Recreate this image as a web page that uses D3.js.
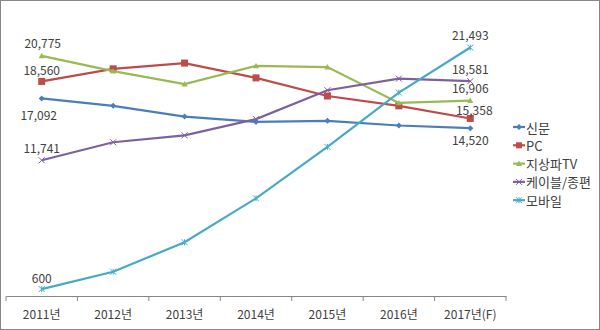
<!DOCTYPE html>
<html>
<head>
<meta charset="utf-8">
<script src="https://cdnjs.cloudflare.com/ajax/libs/d3/7.8.5/d3.min.js"></script>
<style>
  body { margin: 0; background: #fff; }
  svg text { font-family: "Noto Sans CJK KR", "Noto Sans", sans-serif; fill: #404040; }
</style>
</head>
<body>
<svg width="600" height="330"></svg>
<script>
'use strict';

var years = ['2011년', '2012년', '2013년', '2014년', '2015년', '2016년', '2017년(F)'];
var seriesNames = ['신문', 'PC', '지상파TV', '케이블/종편', '모바일'];

var newspaper = [17092, 16450, 15520, 15060, 15150, 14750, 14520];
var pc = [18560, 19650, 20150, 18870, 17300, 16450, 15358];
var terrestrial = [20775, 19450, 18330, 19900, 19800, 16700, 16906];
var cable = [11741, 13300, 13900, 15300, 17800, 18800, 18581];
var mobile = [600, 2100, 4650, 8450, 12900, 17600, 21493];

var allValues = [newspaper, pc, terrestrial, cable, mobile];

// 색상, 마커, 라벨 위치 (처음/마지막 점 기준 세로 오프셋)
var colors = ['#4A7EBB', '#BE4B48', '#98B954', '#7D60A0', '#46AAC5'];
var markers = ['diamond', 'square', 'triangle', 'cross', 'star'];
var labelDy = [[16, 11], [-12, -9], [-13, -13], [-13, -13], [-12, -13]];
var labelDx = [[-3, 0], [0, 4], [1, 0], [0, 0], [0, 0]];

var svg = d3.select('svg');

// 외곽선
svg.append('rect')
    .attr('x', 0.5).attr('y', 0.5)
    .attr('width', 599).attr('height', 329)
    .attr('fill', 'none')
    .attr('stroke', '#868686');

var x = d3.scaleBand().domain(years).range([6, 506]);
var y = d3.scaleLinear().domain([0, 25000]).range([296, 7]);
var cx = function (d) { return x(d) + x.bandwidth() / 2; };

// x축
var xAxis = svg.append('g')
    .attr('transform', 'translate(0,296)')
    .call(d3.axisBottom(x).tickSize(0).tickPadding(14));
xAxis.select('.domain').attr('stroke', '#868686');
xAxis.selectAll('text').style('font-size', '12px').attr('fill', '#404040');

svg.append('g')
    .selectAll('line')
    .data(d3.range(0, years.length + 1))
    .enter()
        .append('line')
        .attr('x1', function (d) { return 6 + d * x.bandwidth(); })
        .attr('x2', function (d) { return 6 + d * x.bandwidth(); })
        .attr('y1', 296)
        .attr('y2', 301)
        .attr('stroke', '#868686');

function drawMarker(g, type, color, px, py, s) {
    if (type === 'diamond') {
        g.append('path').attr('d', 'M' + px + ',' + (py - s) + 'L' + (px + s) + ',' + py + 'L' + px + ',' + (py + s) + 'L' + (px - s) + ',' + py + 'Z').attr('fill', color);
    } else if (type === 'square') {
        g.append('rect').attr('x', px - s).attr('y', py - s).attr('width', 2 * s).attr('height', 2 * s).attr('fill', color);
    } else if (type === 'triangle') {
        g.append('path').attr('d', 'M' + px + ',' + (py - s) + 'L' + (px + s) + ',' + (py + s * 0.8) + 'L' + (px - s) + ',' + (py + s * 0.8) + 'Z').attr('fill', color);
    } else if (type === 'cross') {
        g.append('path').attr('d', 'M' + (px - s) + ',' + (py - s) + 'L' + (px + s) + ',' + (py + s) + 'M' + (px + s) + ',' + (py - s) + 'L' + (px - s) + ',' + (py + s)).attr('stroke', color).attr('stroke-width', 1);
    } else {
        g.append('path').attr('d', 'M' + (px - s) + ',' + (py - s) + 'L' + (px + s) + ',' + (py + s) + 'M' + (px + s) + ',' + (py - s) + 'L' + (px - s) + ',' + (py + s) + 'M' + px + ',' + (py - s) + 'L' + px + ',' + (py + s)).attr('stroke', color).attr('stroke-width', 1);
    }
}

var line = d3.line()
    .x(function (d, i) { return cx(years[i]); })
    .y(function (d) { return y(d); });

var fmt = d3.format(',');

allValues.forEach(function (values, k) {
    var g = svg.append('g');
    g.append('path')
        .datum(values)
        .attr('d', line)
        .attr('fill', 'none')
        .attr('stroke', colors[k])
        .attr('stroke-width', 2.2);

    values.forEach(function (v, i) {
        drawMarker(g, markers[k], colors[k], cx(years[i]), y(v), markers[k] === 'square' ? 3.5 : 3);
    });

    // 데이터 라벨 (처음과 마지막)
    [0, values.length - 1].forEach(function (i, j) {
        svg.append('text')
            .attr('x', cx(years[i]) + labelDx[k][j])
            .attr('y', y(values[i]) + labelDy[k][j])
            .attr('text-anchor', 'middle')
            .attr('dominant-baseline', 'central')
            .style('font-size', '12px')
            .text(fmt(values[i]));
    });
});

// 범례
var legend = svg.append('g').attr('transform', 'translate(513,127)');
seriesNames.forEach(function (name, k) {
    var ly = k * 18.3;
    legend.append('line')
        .attr('x1', 0).attr('x2', 12)
        .attr('y1', ly).attr('y2', ly)
        .attr('stroke', colors[k])
        .attr('stroke-width', 2.2);
    drawMarker(legend, markers[k], colors[k], 6, ly, 3);
    legend.append('text')
        .attr('x', 13)
        .attr('y', ly)
        .attr('dominant-baseline', 'central')
        .style('font-size', '13px')
        .text(name);
});
</script>
</body>
</html>
